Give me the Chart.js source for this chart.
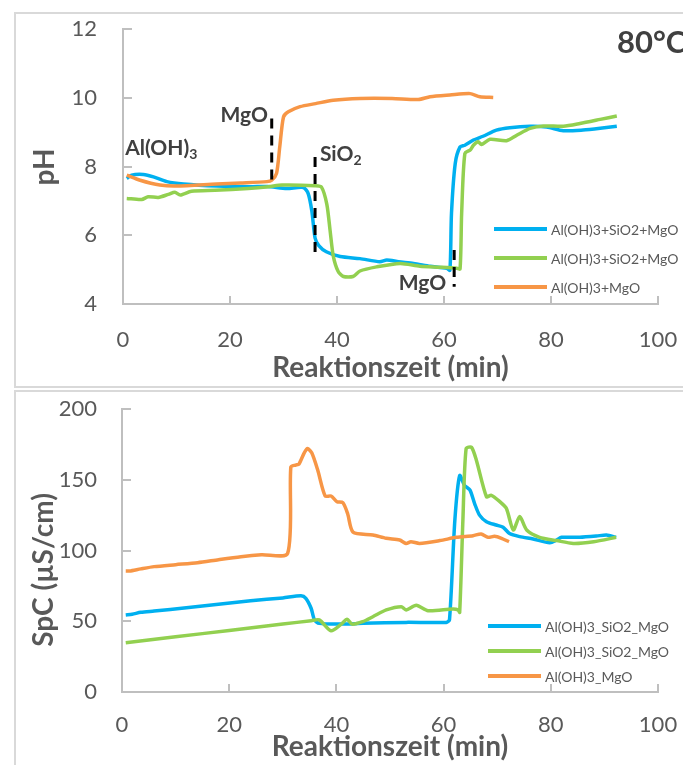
<!DOCTYPE html>
<html>
<head>
<meta charset="utf-8">
<script src="https://cdn.jsdelivr.net/npm/chart.js@4.4.1/dist/chart.umd.min.js"></script>
<style>
  html, body { margin: 0; padding: 0; background: #fff; overflow: hidden; }
  #page { width: 683px; height: 765px; position: relative; overflow: hidden; }
  .frame { position: absolute; border: 2px solid #D9D9D9; box-sizing: border-box; }
  #frameTop { left: 14px; top: 12px; width: 680px; height: 376px; }
  #frameBottom { left: 14px; top: 390px; width: 680px; height: 390px; }
  canvas { position: absolute; left: 0; }
  #phChart { top: 0; }
  #spcChart { top: 388px; }
</style>
</head>
<body>
<div id="page">
<div class="frame" id="frameTop"></div>
<div class="frame" id="frameBottom"></div>
<canvas id="phChart" width="683" height="388"></canvas>
<canvas id="spcChart" width="683" height="377"></canvas>
</div>
<script>
// --- pH vs. time (min) ---
const phTimeBlue = [0.7, 1.6, 3.8, 5.7, 8.2, 11.3, 17.5, 23.7, 27, 30.6, 33.7, 34.6, 35.3, 35.9, 36.6, 38.0, 40.6, 44.3, 48.0, 49.3, 51.5, 54.3, 57.4, 60.5, 61.1, 61.4, 62.1, 63.0, 63.9, 65.5, 67.3, 69.8, 72.3, 76.1, 79.2, 82.3, 86.0, 89.2, 92.3];
const phBlue     = [7.65, 7.75, 7.77, 7.70, 7.56, 7.49, 7.43, 7.41, 7.42, 7.36, 7.39, 7.22, 6.70, 5.92, 5.70, 5.52, 5.38, 5.32, 5.23, 5.28, 5.23, 5.18, 5.10, 5.04, 4.98, 6.64, 8.09, 8.57, 8.62, 8.77, 8.88, 9.06, 9.13, 9.17, 9.15, 9.04, 9.06, 9.11, 9.17];

const phTimeGreen = [0.7, 3.5, 4.7, 6.6, 8.5, 9.7, 10.7, 12.8, 17.2, 23.4, 27.2, 29.7, 35.9, 37.1, 38.1, 38.7, 39.3, 40.2, 41.2, 43.0, 44.3, 47.4, 51.8, 55.5, 59.3, 62.4, 63.0, 63.3, 63.9, 64.9, 65.5, 66.4, 67.0, 68.6, 71.7, 73.6, 76.1, 78.6, 82.3, 85.4, 89.2, 92.3];
const phGreen     = [7.07, 7.04, 7.12, 7.10, 7.19, 7.25, 7.17, 7.28, 7.31, 7.36, 7.41, 7.46, 7.44, 7.40, 6.90, 6.15, 5.40, 4.95, 4.80, 4.80, 4.96, 5.08, 5.18, 5.10, 5.07, 5.04, 5.02, 6.64, 8.38, 8.48, 8.62, 8.72, 8.64, 8.79, 8.75, 8.91, 9.11, 9.18, 9.17, 9.25, 9.37, 9.47];

const phTimeOrange = [0.7, 3.2, 6.9, 10, 17.5, 22, 26.9, 27.8, 28.7, 29.3, 30.0, 30.9, 33.1, 36, 39.3, 44.3, 50.3, 55.2, 57.4, 61.1, 64.9, 66.7, 69.2];
const phOrange     = [7.75, 7.60, 7.46, 7.43, 7.49, 7.52, 7.56, 7.60, 7.80, 8.57, 9.44, 9.59, 9.74, 9.83, 9.93, 9.98, 9.98, 9.95, 10.03, 10.08, 10.12, 10.03, 10.01];

// dosing markers: [time, pH from, pH to]
const markerMgO1 = [27.8, 9.40, 7.56];
const markerSiO2 = [35.9, 8.28, 5.33];
const markerMgO2 = [61.9, 5.57, 4.50];

// --- specific conductance (µS/cm) vs. time (min) ---
const spcTimeBlue = [0.7, 1.9, 3.5, 6.0, 12, 18, 24, 30, 33.4, 34.3, 35.3, 35.9, 36.8, 40.6, 45, 53, 60.5, 61.1, 62.1, 63.0, 63.9, 64.9, 65.8, 66.7, 68.0, 69.8, 71.1, 72.3, 74.2, 76.7, 79.8, 81.1, 82.0, 85.4, 88.5, 90.4, 92.2];
const spcBlue     = [54.4, 54.9, 56.3, 57.2, 59.5, 62, 64.5, 66.5, 68, 66.2, 59, 51, 48.5, 48, 48.5, 49.2, 49.2, 51, 121.5, 153, 146, 142.8, 133, 125, 120.4, 118, 116.4, 112, 109.8, 108.1, 105.5, 107.4, 109.3, 109.3, 110.2, 111, 109.3];

const spcTimeGreen = [0.7, 10, 20, 30, 35.3, 36.8, 39.0, 40.9, 42.0, 42.9, 44.9, 46.8, 49.3, 52.1, 53.0, 54.9, 57.1, 61.7, 62.7, 63.0, 63.6, 64.2, 65.2, 66.1, 68.0, 68.9, 70.5, 71.7, 73.0, 74.2, 75.5, 77.9, 81.1, 84.2, 88.0, 92.2];
const spcGreen     = [34.8, 39, 43.5, 48, 50.4, 51, 43.3, 48, 51.4, 48, 49.7, 53.2, 58, 60.3, 58, 61.3, 57.5, 58.7, 58, 56.3, 121.5, 172, 173, 164, 138, 139, 134.5, 129.8, 114.5, 124, 114.5, 109.3, 107, 105, 106.2, 109.3];

const spcTimeOrange = [0.7, 1.4, 3.5, 6.0, 10, 14.1, 18, 22.2, 26, 30.9, 31.5, 32.4, 33.0, 34.0, 34.6, 35.4, 36.5, 37.9, 39.0, 40.1, 41.2, 42.1, 43.1, 46.8, 49.3, 51.8, 53.0, 53.9, 55.5, 59.3, 62.4, 65.5, 67.0, 68.3, 69.5, 70.8, 72.2];
const spcOrange     = [85.5, 85.5, 87, 88.6, 90, 91.4, 93.5, 95.6, 97, 98, 159, 160.4, 161, 169, 172, 169, 157, 138.5, 138.5, 134.5, 133.8, 126, 113, 111, 108.6, 107.4, 105, 106.2, 105, 107, 109.3, 110.5, 111.7, 109.3, 110, 108.6, 106.2];

const xTicks = [0, 20, 40, 60, 80, 100];
const phTicks = [4, 6, 8, 10, 12];
const spcTicks = [0, 50, 100, 150, 200];

const phLabels = ['Al(OH)3+SiO2+MgO', 'Al(OH)3+SiO2+MgO', 'Al(OH)3+MgO'];
const spcLabels = ['Al(OH)3_SiO2_MgO', 'Al(OH)3_SiO2_MgO', 'Al(OH)3_MgO'];

const BLUE = '#00B0F0';
const GREEN = '#92D050';
const ORANGE = '#F79646';
const AXIS = '#BFBFBF';
const TEXT = '#595959';
const DARK = '#404040';
const FONT = 'Lato';
const TITLE_SIZE = 28;

const toPoints = (xs, ys) => xs.map((x, i) => ({ x, y: ys[i] }));

function series(label, xs, ys, color, order) {
  return {
    label, data: toPoints(xs, ys), borderColor: color, backgroundColor: color,
    borderWidth: 3.5, pointRadius: 0, tension: 0.25, fill: false, order
  };
}

function marker(m) {
  return {
    marker: true, data: [{ x: m[0], y: m[1] }, { x: m[0], y: m[2] }],
    borderColor: '#000', borderWidth: 3, borderDash: [10, 7], pointRadius: 0, order: 0
  };
}

// tick marks pointing into the plot area
const inwardTicks = {
  id: 'inwardTicks',
  beforeDatasetsDraw(chart) {
    const { ctx, scales: { x, y } } = chart;
    ctx.save();
    ctx.strokeStyle = AXIS;
    ctx.lineWidth = 2;
    ctx.beginPath();
    x.ticks.forEach(t => {
      if (t.value === x.min) return;
      const px = Math.round(x.getPixelForValue(t.value));
      ctx.moveTo(px, x.top); ctx.lineTo(px, x.top - 8);
    });
    y.ticks.forEach(t => {
      if (t.value === y.min) return;
      const py = Math.round(y.getPixelForValue(t.value));
      ctx.moveTo(y.right, py); ctx.lineTo(y.right + 9, py);
    });
    ctx.stroke();
    ctx.restore();
  }
};

// legend inside the plot, y title and free text labels
const extras = {
  id: 'extras',
  afterDraw(chart, args, opts) {
    const { ctx, scales: { x, y } } = chart;
    ctx.save();

    // legend
    const lg = opts.legend;
    chart.data.datasets.filter(d => !d.marker).forEach((d, i) => {
      const ly = lg.y + i * lg.gap;
      ctx.strokeStyle = d.borderColor;
      ctx.lineWidth = 4;
      ctx.beginPath();
      ctx.moveTo(lg.x0, ly); ctx.lineTo(lg.x1, ly);
      ctx.stroke();
      ctx.fillStyle = TEXT;
      ctx.font = `${lg.size}px ${FONT}`;
      ctx.textAlign = 'left';
      ctx.textBaseline = 'middle';
      ctx.fillText(d.label, lg.x1 + 4, ly + 1);
    });

    // y axis title
    const yt = opts.yTitle;
    ctx.save();
    ctx.translate(yt.x, yt.y);
    ctx.rotate(-Math.PI / 2);
    ctx.fillStyle = TEXT;
    ctx.font = `bold ${TITLE_SIZE}px ${FONT}`;
    ctx.textAlign = 'center';
    ctx.textBaseline = 'middle';
    ctx.fillText(yt.text, 0, 0);
    ctx.restore();

    // annotations placed in data coordinates, optional subscript
    (opts.notes || []).forEach(n => {
      const px = x.getPixelForValue(n.x);
      const py = y.getPixelForValue(n.y);
      ctx.fillStyle = DARK;
      ctx.textBaseline = 'middle';
      ctx.font = `bold ${n.size}px ${FONT}`;
      const w = ctx.measureText(n.text).width;
      ctx.font = `bold ${Math.round(n.size * 0.68)}px ${FONT}`;
      const ws = n.sub ? ctx.measureText(n.sub).width : 0;
      const left = n.align === 'right' ? px - w - ws : px;
      ctx.font = `bold ${n.size}px ${FONT}`;
      ctx.textAlign = 'left';
      ctx.fillText(n.text, left, py);
      if (n.sub) {
        ctx.font = `bold ${Math.round(n.size * 0.68)}px ${FONT}`;
        ctx.fillText(n.sub, left + w, py + n.size * 0.3);
      }
    });

    // temperature tag
    if (opts.tag) {
      ctx.fillStyle = DARK;
      ctx.font = `bold 31px ${FONT}`;
      ctx.textAlign = 'left';
      ctx.textBaseline = 'middle';
      ctx.fillText(opts.tag.text, opts.tag.x, opts.tag.y);
    }
    ctx.restore();
  }
};

function axes(yMin, yMax, yWidth, xHeight, xTickPad, xTitlePad, yTickPad, yTickList) {
  return {
    x: {
      type: 'linear', min: 0, max: 100,
      afterBuildTicks: s => { s.ticks = xTicks.map(v => ({ value: v })); },
      ticks: { color: TEXT, font: { family: FONT, size: 22 }, padding: xTickPad, maxRotation: 0 },
      grid: { display: false, drawTicks: false },
      border: { color: AXIS, width: 2 },
      title: {
        display: true, text: 'Reaktionszeit (min)', color: TEXT,
        font: { family: FONT, size: TITLE_SIZE, weight: 'bold' }, padding: { top: 0, bottom: xTitlePad }
      },
      // keep the plot edges fixed regardless of label widths
      afterFit: s => { s.height = xHeight; s.paddingLeft = 0; s.paddingRight = 0; }
    },
    y: {
      min: yMin, max: yMax,
      afterBuildTicks: s => { s.ticks = yTickList.map(v => ({ value: v })); },
      ticks: { color: TEXT, font: { family: FONT, size: 22 }, padding: yTickPad },
      grid: { display: false, drawTicks: false },
      border: { color: AXIS, width: 2 },
      afterFit: s => { s.width = yWidth; s.paddingTop = 0; s.paddingBottom = 0; }
    }
  };
}

new Chart(document.getElementById('phChart'), {
  type: 'line',
  data: {
    datasets: [
      series(phLabels[0], phTimeBlue, phBlue, BLUE, 3),
      series(phLabels[1], phTimeGreen, phGreen, GREEN, 2),
      series(phLabels[2], phTimeOrange, phOrange, ORANGE, 1),
      marker(markerMgO1), marker(markerSiO2), marker(markerMgO2)
    ]
  },
  options: {
    responsive: false,
    animation: false,
    layout: { padding: { top: 29, right: 25, left: 0, bottom: 0 } },
    scales: axes(4, 12, 123, 84, 23, 3, 26, phTicks),
    plugins: {
      legend: { display: false },
      tooltip: { enabled: false },
      extras: {
        legend: { x0: 494, x1: 547, y: 229, gap: 29, size: 14 },
        yTitle: { text: 'pH', x: 45, y: 167 },
        tag: { text: '80°C', x: 617, y: 43 },
        notes: [
          { text: 'Al(OH)', sub: '3', x: 0.4, y: 8.53, size: 21, align: 'left' },
          { text: 'MgO', x: 27.1, y: 9.49, size: 21, align: 'right' },
          { text: 'SiO', sub: '2', x: 36.8, y: 8.36, size: 21, align: 'left' },
          { text: 'MgO', x: 60.4, y: 4.61, size: 21, align: 'right' }
        ]
      }
    }
  },
  plugins: [inwardTicks, extras]
});

new Chart(document.getElementById('spcChart'), {
  type: 'line',
  data: {
    datasets: [
      series(spcLabels[0], spcTimeBlue, spcBlue, BLUE, 3),
      series(spcLabels[1], spcTimeGreen, spcGreen, GREEN, 2),
      series(spcLabels[2], spcTimeOrange, spcOrange, ORANGE, 1)
    ]
  },
  options: {
    responsive: false,
    animation: false,
    layout: { padding: { top: 21, right: 25, left: 0, bottom: 0 } },
    scales: axes(0, 200, 122, 73, 20, 1, 25, spcTicks),
    plugins: {
      legend: { display: false },
      tooltip: { enabled: false },
      extras: {
        legend: { x0: 488, x1: 541, y: 238, gap: 25, size: 14 },
        yTitle: { text: 'SpC (µS/cm)', x: 44, y: 182 }
      }
    }
  },
  plugins: [inwardTicks, extras]
});
</script>
</body>
</html>
